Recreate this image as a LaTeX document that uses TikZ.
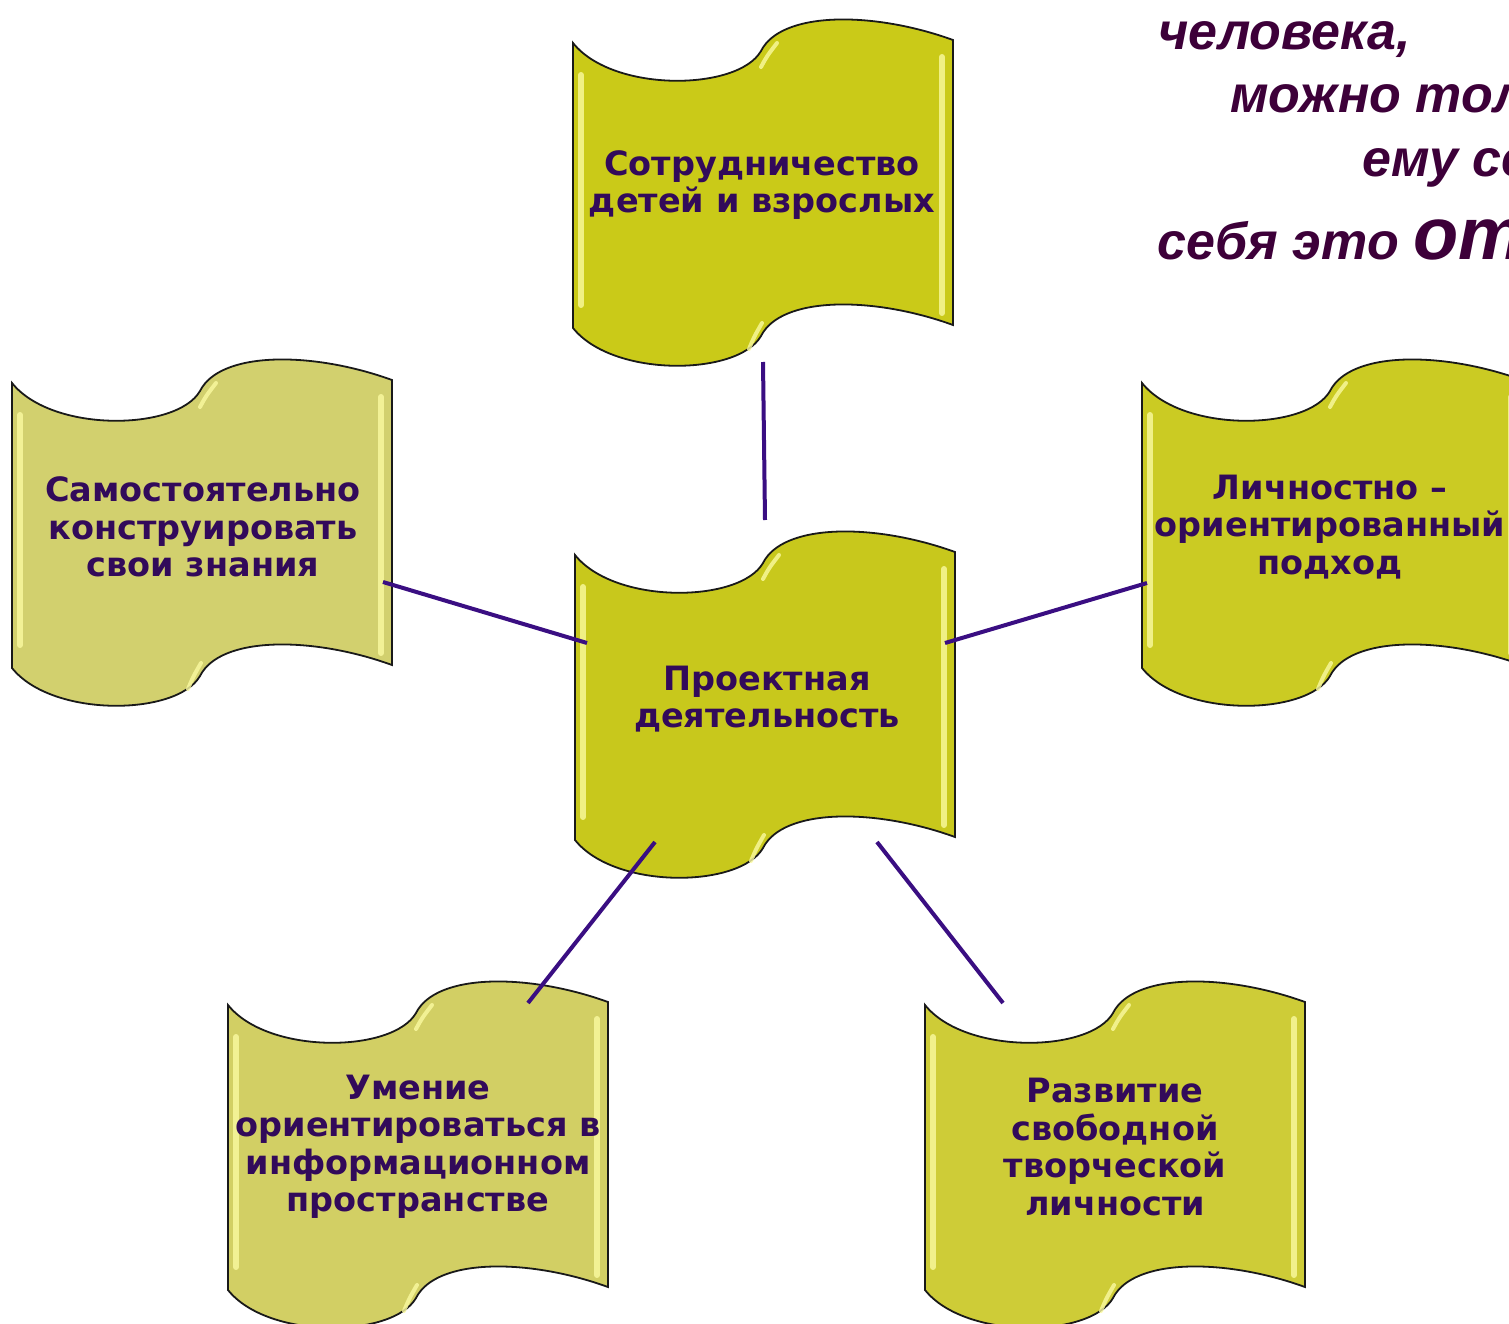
\documentclass[tikz,border=0pt]{standalone}
\usepackage{fontspec}
\setmainfont{DejaVu Sans}
\newfontfamily\quotefont{Liberation Sans}
\definecolor{fillA}{RGB}{202,202,24}
\definecolor{fillB}{RGB}{210,208,110}
\definecolor{fillC}{RGB}{203,203,35}
\definecolor{fillD}{RGB}{200,200,28}
\definecolor{fillE}{RGB}{210,207,100}
\definecolor{fillF}{RGB}{206,204,55}
\definecolor{txtc}{RGB}{50,10,90}
\definecolor{quotec}{RGB}{61,0,57}
\definecolor{linkc}{RGB}{58,14,130}
\definecolor{hlc}{RGB}{250,250,160}
\tikzset{
  link/.style={draw=linkc, line width=4pt},
  boxtext/.style={text=txtc, font=\bfseries\fontsize{33.5}{37.5}\selectfont, align=center, inner sep=0pt},
  quotetext/.style={text=quotec, font=\quotefont\bfseries\itshape\fontsize{52}{60}\selectfont, inner sep=0pt, anchor=base west},
  hl/.style={draw=hlc, line width=6pt, line cap=round, opacity=.8},
  scrolledge/.style={draw=black!90, line width=1.8pt}
}
\newcommand\scrollat[3]{%
  \begin{scope}[shift={(#1,#2)}]
    \path[fill=#3, scrolledge] (0,20) .. controls (40,70) and (165,68) .. (188,28)
      .. controls (208,-12) and (300,-12) .. (380,17) -- (380,302)
      .. controls (300,273) and (208,273) .. (188,313)
      .. controls (165,353) and (40,355) .. (0,305) -- cycle;
    \draw[hl] (8,52) -- (8,282);
    \draw[hl] (369,34) -- (369,290);
    \draw[hl, line width=4pt] (188,44) .. controls (194,33) .. (204,20);
    \draw[hl, line width=4pt] (176,326) .. controls (181,314) .. (189,300);
  \end{scope}}
\begin{document}
\begin{tikzpicture}[x=1pt,y=-1pt]
  \useasboundingbox (0,0) rectangle (1509,1324);
  \clip (0,0) rectangle (1509,1324);
  \fill[white] (0,0) rectangle (1509,1324);

  % quote text (cut at the right edge, as in the reference)
  \node[quotetext] (q1) at (1158,50) {человека,};
  \node[quotetext] (q2) at (1230,113) {можно тол};
  \node[quotetext] (q3) at (1362,177) {ему се};
  \node[quotetext] (q4) at (1157,260) {себя это {\fontsize{74}{74}\selectfont от}};

  % scroll shapes
  \scrollat{573}{23}{fillA}
  \scrollat{12}{363}{fillB}
  \scrollat{1142}{363}{fillC}
  \scrollat{575}{535}{fillD}
  \scrollat{228}{985}{fillE}
  \scrollat{925}{985}{fillF}

  % texts
  \node[boxtext] (top) at (762,185) {Сотрудничество\\детей и взрослых};
  \node[boxtext] (left) at (203,527) {Самостоятельно\\конструировать\\свои знания};
  \node[boxtext] (right) at (1330,527) {Личностно –\\ориентированный\\подход};
  \node[boxtext] (center) at (767,699) {Проектная\\деятельность};
  \node[boxtext] (bl) at (418,1147) {Умение\\ориентироваться в\\информационном\\пространстве};
  \node[boxtext] (br) at (1115,1147) {Развитие\\свободной\\творческой\\личности};

  % connector end points
  \coordinate (top-s) at (763,362);
  \coordinate (ctr-n) at (765,520);
  \coordinate (left-e) at (383,582);
  \coordinate (ctr-w) at (587,643);
  \coordinate (right-w) at (1147,583);
  \coordinate (ctr-e) at (945,643);
  \coordinate (ctr-sw) at (655,842);
  \coordinate (bl-n) at (528,1003);
  \coordinate (ctr-se) at (877,842);
  \coordinate (br-n) at (1003,1003);

  \draw[link] (top-s) -- (ctr-n);
  \draw[link] (left-e) -- (ctr-w);
  \draw[link] (right-w) -- (ctr-e);
  \draw[link] (ctr-sw) -- (bl-n);
  \draw[link] (ctr-se) -- (br-n);
\end{tikzpicture}
\end{document}
